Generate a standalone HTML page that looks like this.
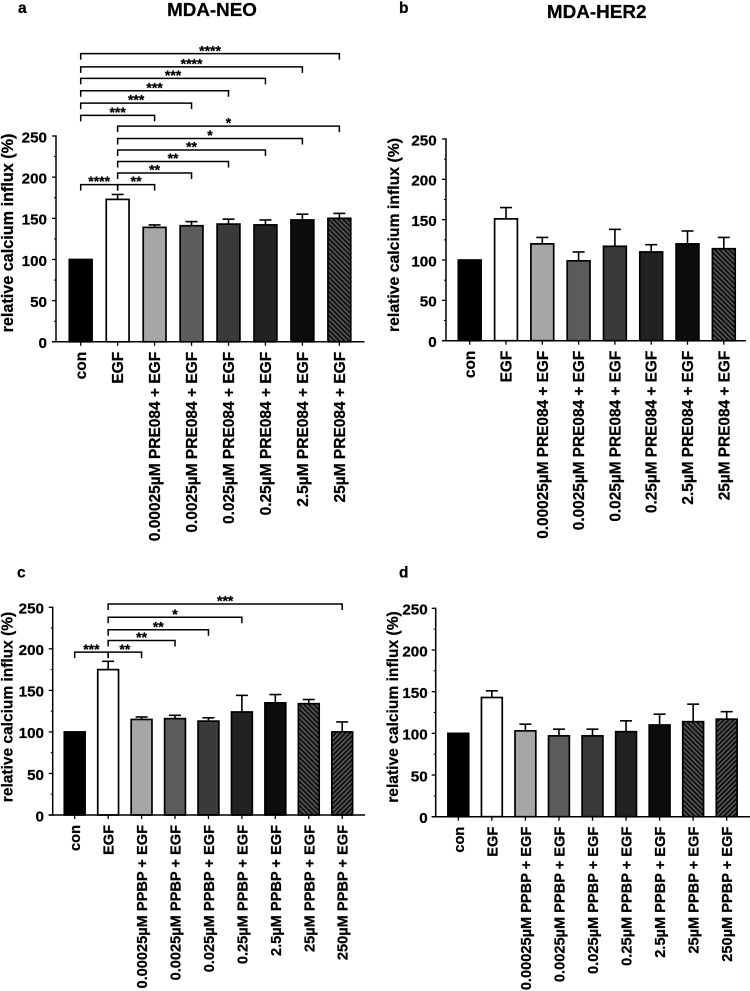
<!DOCTYPE html>
<html lang="en">
<head>
<meta charset="utf-8">
<title>Relative calcium influx: MDA-NEO and MDA-HER2</title>
<style>
html,body{margin:0;padding:0;background:#fff;width:750px;height:991px;overflow:hidden}
svg{display:block}
text{font-family:"Liberation Sans",Arial,sans-serif;font-weight:bold;fill:#000;stroke:#000;stroke-width:.25px}
</style>
</head>
<body>
<svg id="figure" xmlns="http://www.w3.org/2000/svg" width="750" height="991" viewBox="0 0 750 991">
<defs>
<pattern id="hatchA" patternUnits="userSpaceOnUse" width="3.4" height="3.4" patternTransform="rotate(45)">
<rect width="3.4" height="3.4" fill="#5a5a5a"/><rect width="3.4" height="1.9" fill="#111"/>
</pattern>
<pattern id="hatchB" patternUnits="userSpaceOnUse" width="3.4" height="3.4" patternTransform="rotate(-45)">
<rect width="3.4" height="3.4" fill="#5a5a5a"/><rect width="3.4" height="1.9" fill="#111"/>
</pattern>
</defs>
<text x="18" y="13" font-size="15.5">a</text>
<text x="212" y="16" font-size="18.8" text-anchor="middle">MDA-NEO</text>
<text x="399" y="13" font-size="15.5">b</text>
<text x="596.7" y="18" font-size="18.9" text-anchor="middle">MDA-HER2</text>
<text x="17" y="577.5" font-size="15.5">c</text>
<text x="399" y="577.5" font-size="15.5">d</text>
</svg>
<script>
// Chart data
const tickValues = [0, 50, 100, 150, 200, 250];
const minorTickValues = [25, 75, 125, 175, 225];

const categoriesA = ['con', 'EGF', '0.00025µM PRE084 + EGF', '0.0025µM PRE084 + EGF', '0.025µM PRE084 + EGF', '0.25µM PRE084 + EGF', '2.5µM PRE084 + EGF', '25µM PRE084 + EGF'];
const valuesA = [100, 173, 139, 141, 143, 142, 148, 150];
const errorTopsA = [100, 179, 142, 146, 149, 148, 155, 156];
const bracketFromA = [0, 0, 0, 0, 0, 0, 1, 1, 1, 1, 1, 0, 1];
const bracketToA = [7, 6, 5, 4, 3, 2, 7, 6, 5, 4, 3, 1, 2];
const bracketLevelA = [350, 334, 320, 305, 290, 275, 262, 247, 233, 219, 205, 191, 191];
const bracketStarsA = ['****', '****', '***', '***', '***', '***', '*', '*', '**', '**', '**', '****', '**'];

const categoriesB = categoriesA.slice();
const valuesB = [100, 151, 120, 99, 117, 110, 120, 114];
const errorTopsB = [100, 165, 128, 110, 138, 119, 136, 128];

const categoriesC = ['con', 'EGF', '0.00025µM PPBP + EGF', '0.0025µM PPBP + EGF', '0.025µM PPBP + EGF', '0.25µM PPBP + EGF', '2.5µM PPBP + EGF', '25µM PPBP + EGF', '250µM PPBP + EGF'];
const valuesC = [100, 175, 115, 116, 113, 124, 135, 134, 100];
const errorTopsC = [100, 185, 118, 120, 117, 144, 145, 139, 112];
const bracketFromC = [1, 1, 1, 1, 1, 0];
const bracketToC = [8, 5, 4, 3, 2, 1];
const bracketLevelC = [254, 238, 223, 210, 196, 196];
const bracketStarsC = ['***', '*', '**', '**', '**', '***'];

const categoriesD = categoriesC.slice();
const valuesD = [100, 143, 103, 97, 97, 102, 110, 114, 117];
const errorTopsD = [100, 151, 111, 105, 105, 115, 123, 135, 126];

const fillsEight = ['#000', '#fff', '#a6a6a6', '#5c5c5c', '#3a3a3a', '#222', '#0c0c0c', 'url(#hatchA)'];
const fillsNine = ['#000', '#fff', '#a6a6a6', '#5c5c5c', '#3a3a3a', '#222', '#0c0c0c', 'url(#hatchA)', 'url(#hatchB)'];

const NS = 'http://www.w3.org/2000/svg';
const root = document.getElementById('figure');

function make(parent, tag, attrs, txt) {
  const el = document.createElementNS(NS, tag);
  for (const k in attrs) el.setAttribute(k, attrs[k]);
  if (txt !== undefined) el.textContent = txt;
  parent.appendChild(el);
  return el;
}

function drawPanel(p) {
  const g = make(root, 'g', {});
  
  

  const yScale = v => p.y0 - (v / 250) * (p.y0 - p.y250);
  const xScale = i => p.x0 + i * p.step;

  // bars and error bars
  p.values.forEach((v, i) => {
    const cx = xScale(i);
    const top = p.errors[i];
    if (top > v) {
      const stem = make(g, 'line', {x1: cx, x2: cx, y1: yScale(v), y2: yScale(top), stroke: '#000', 'stroke-width': 1.6});
      
      
      const cap = make(g, 'line', {x1: cx - 6, x2: cx + 6, y1: yScale(top), y2: yScale(top), stroke: '#000', 'stroke-width': 1.6});
      
      
    }
    const bar = make(g, 'rect', {
      x: cx - p.barW / 2 + 0.85, y: yScale(v), width: p.barW - 1.7, height: p.y0 - yScale(v),
      fill: p.fills[i], stroke: '#000', 'stroke-width': 1.7
    });
    
    
    const tick = make(g, 'line', {x1: cx, x2: cx, y1: p.y0, y2: p.y0 + 4, stroke: '#000', 'stroke-width': 1.3});
    
    
    const label = make(g, 'text', {
      transform: 'translate(' + (cx + 5.5) + ',' + (p.y0 + 10) + ') rotate(-90)',
      'text-anchor': 'end', 'font-size': p.xFont
    }, p.categories[i]);
    
    
  });

  // axes
  const yAxis = make(g, 'line', {x1: p.axisX, x2: p.axisX, y1: p.y250 - 0.7, y2: p.y0 + 0.7, stroke: '#000', 'stroke-width': 1.5});
  
  
  const xAxis = make(g, 'line', {x1: p.axisX - 4, x2: p.axisEnd, y1: p.y0, y2: p.y0, stroke: '#000', 'stroke-width': 1.5});
  
  

  tickValues.forEach(t => {
    const y = yScale(t);
    const tick = make(g, 'line', {x1: p.axisX - 4, x2: p.axisX, y1: y, y2: y, stroke: '#000', 'stroke-width': 1.3});
    
    
    const label = make(g, 'text', {x: p.tickRight, y: y + 6.3, 'text-anchor': 'end', 'font-size': 15.2}, String(t));
    
    
  });
  minorTickValues.forEach(t => {
    const y = yScale(t);
    const tick = make(g, 'line', {x1: p.axisX - 2, x2: p.axisX, y1: y, y2: y, stroke: '#000', 'stroke-width': 1});
    
    
  });

  const title = make(g, 'text', {
    transform: 'translate(' + p.titleX + ',' + p.titleY + ') rotate(-90)',
    'text-anchor': 'middle', 'font-size': p.titleFont
  }, 'relative calcium influx (%)');
  
  

  // significance brackets
  (p.bFrom || []).forEach((from, k) => {
    const x1 = xScale(from), x2 = xScale(p.bTo[k]), y = yScale(p.bLevel[k]);
    const br = make(g, 'path', {
      d: 'M' + x1 + ' ' + (y + 6) + 'V' + y + 'H' + x2 + 'V' + (y + 6),
      fill: 'none', stroke: '#000', 'stroke-width': 1.5
    });
    
    
    const st = make(g, 'text', {x: (x1 + x2) / 2, y: y + 1.6, 'text-anchor': 'middle', 'font-size': 14}, p.bStars[k]);
    
    
  });
}

drawPanel({id: 'a', categories: categoriesA, values: valuesA, errors: errorTopsA, fills: fillsEight,
  x0: 80.7, step: 36.95, barW: 24.5, y0: 341.8, y250: 136, axisX: 56, axisEnd: 364.5, tickRight: 47,
  titleX: 13, titleY: 233, titleFont: 16.2, xFont: 15.5,
  bFrom: bracketFromA, bTo: bracketToA, bLevel: bracketLevelA, bStars: bracketStarsA});

drawPanel({id: 'b', categories: categoriesB, values: valuesB, errors: errorTopsB, fills: fillsEight,
  x0: 469.7, step: 36.3, barW: 24.5, y0: 340.7, y250: 139, axisX: 446, axisEnd: 746, tickRight: 436.7,
  titleX: 399, titleY: 235, titleFont: 15.8, xFont: 15.4});

drawPanel({id: 'c', categories: categoriesC, values: valuesC, errors: errorTopsC, fills: fillsNine,
  x0: 74.7, step: 33.44, barW: 22.5, y0: 815, y250: 607.3, axisX: 52.7, axisEnd: 365, tickRight: 44,
  titleX: 12.7, titleY: 707, titleFont: 15.5, xFont: 14.6,
  bFrom: bracketFromC, bTo: bracketToC, bLevel: bracketLevelC, bStars: bracketStarsC});

drawPanel({id: 'd', categories: categoriesD, values: valuesD, errors: errorTopsD, fills: fillsNine,
  x0: 458.3, step: 33.55, barW: 22.5, y0: 816.7, y250: 608.3, axisX: 435.7, axisEnd: 750, tickRight: 427.7,
  titleX: 398, titleY: 707, titleFont: 15.6, xFont: 14.6});
</script>
</body>
</html>
